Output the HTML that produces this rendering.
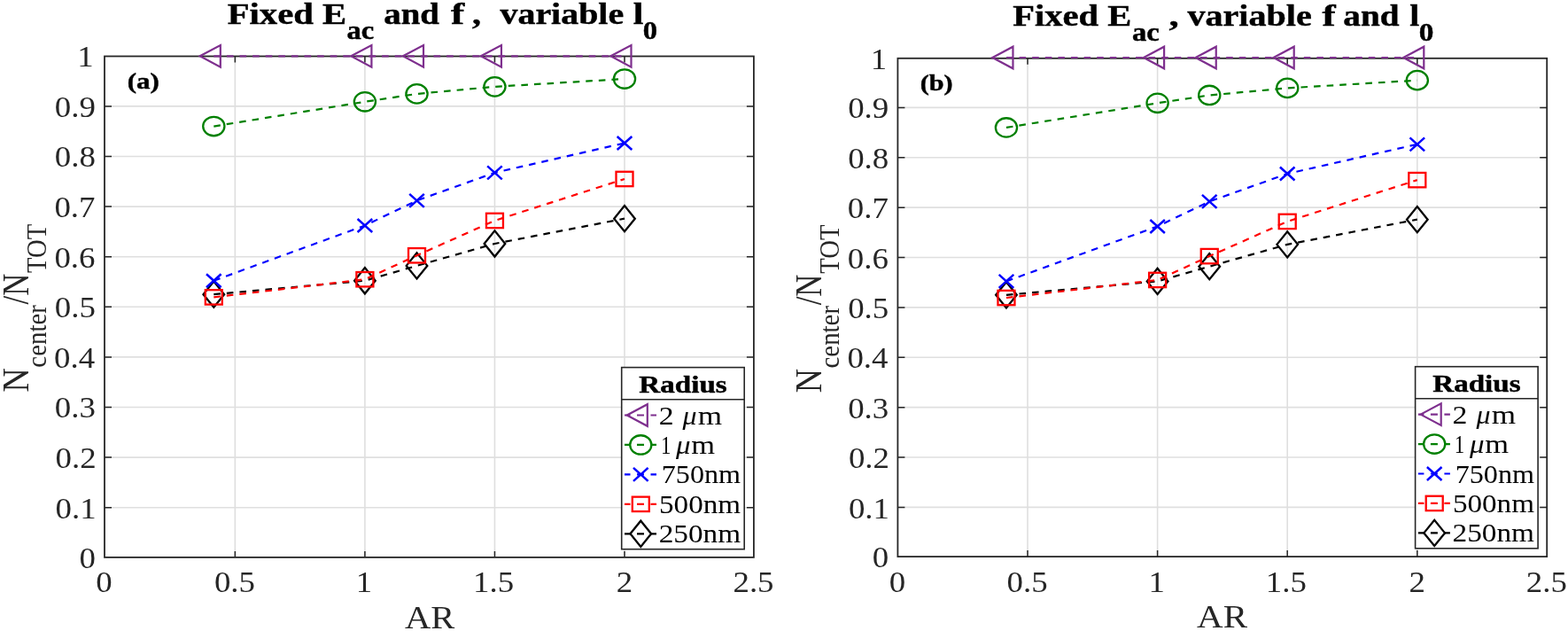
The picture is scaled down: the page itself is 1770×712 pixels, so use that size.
<!DOCTYPE html>
<html><head><meta charset="utf-8"><title>Fixed Eac: Ncenter/NTOT vs AR</title>
<style>
html,body{margin:0;padding:0;background:#fff;width:1770px;height:712px;overflow:hidden;}
svg{display:block;}
text{font-family:"Liberation Serif", "Times New Roman", serif;white-space:pre;}
</style></head>
<body>
<svg width="1770" height="712" viewBox="0 0 1770 712">
<rect width="1770" height="712" fill="#fff"/>
<path d="M265.35,628.90V63.50M411.90,628.90V63.50M558.45,628.90V63.50M705.00,628.90V63.50M118.00,572.70H850.90M118.00,516.10H850.90M118.00,459.50H850.90M118.00,402.90H850.90M118.00,346.30H850.90M118.00,289.70H850.90M118.00,233.10H850.90M118.00,176.50H850.90M118.00,119.90H850.90" stroke="#dfdfdf" stroke-width="1.6" fill="none"/>
<path d="M265.35,628.90v-7.0M265.35,63.50v7.0M411.90,628.90v-7.0M411.90,63.50v7.0M558.45,628.90v-7.0M558.45,63.50v7.0M705.00,628.90v-7.0M705.00,63.50v7.0M118.00,572.70h8.0M850.90,572.70h-8.0M118.00,516.10h8.0M850.90,516.10h-8.0M118.00,459.50h8.0M850.90,459.50h-8.0M118.00,402.90h8.0M850.90,402.90h-8.0M118.00,346.30h8.0M850.90,346.30h-8.0M118.00,289.70h8.0M850.90,289.70h-8.0M118.00,233.10h8.0M850.90,233.10h-8.0M118.00,176.50h8.0M850.90,176.50h-8.0M118.00,119.90h8.0M850.90,119.90h-8.0" stroke="#262626" stroke-width="1.5" fill="none"/>
<rect x="118.00" y="63.50" width="732.90" height="565.40" fill="none" stroke="#262626" stroke-width="1.8"/>
<text transform="translate(108.37,668.40) scale(1.095,1)" font-size="33.7" fill="#262626">0</text>
<text transform="translate(241.89,668.40) scale(1.095,1)" font-size="33.7" fill="#262626">0.5</text>
<text transform="translate(401.72,668.40) scale(1.095,1)" font-size="33.7" fill="#262626">1</text>
<text transform="translate(534.06,668.40) scale(1.095,1)" font-size="33.7" fill="#262626">1.5</text>
<text transform="translate(695.74,668.40) scale(1.095,1)" font-size="33.7" fill="#262626">2</text>
<text transform="translate(827.44,668.40) scale(1.095,1)" font-size="33.7" fill="#262626">2.5</text>
<text transform="translate(89.43,640.80) scale(1.095,1)" font-size="33.7" fill="#262626">0</text>
<text transform="translate(62.49,584.60) scale(1.095,1)" font-size="33.7" fill="#262626">0.1</text>
<text transform="translate(62.49,528.00) scale(1.095,1)" font-size="33.7" fill="#262626">0.2</text>
<text transform="translate(61.75,471.40) scale(1.095,1)" font-size="33.7" fill="#262626">0.3</text>
<text transform="translate(61.01,414.80) scale(1.095,1)" font-size="33.7" fill="#262626">0.4</text>
<text transform="translate(61.75,358.20) scale(1.095,1)" font-size="33.7" fill="#262626">0.5</text>
<text transform="translate(61.38,301.60) scale(1.095,1)" font-size="33.7" fill="#262626">0.6</text>
<text transform="translate(61.38,245.00) scale(1.095,1)" font-size="33.7" fill="#262626">0.7</text>
<text transform="translate(61.75,188.40) scale(1.095,1)" font-size="33.7" fill="#262626">0.8</text>
<text transform="translate(61.75,131.80) scale(1.095,1)" font-size="33.7" fill="#262626">0.9</text>
<text transform="translate(87.26,75.40) scale(1.095,1)" font-size="33.7" fill="#262626">1</text>
<polyline points="241.32,332.15 411.90,316.70 470.52,299.89 558.45,274.98 705.00,246.68" fill="none" stroke="#000000" stroke-width="2.2" stroke-dasharray="7.6 7.0"/>
<path d="M229.52,332.15L241.32,317.55L253.12,332.15L241.32,346.75Z" fill="none" stroke="#000000" stroke-width="2.3" stroke-miterlimit="10"/>
<path d="M400.10,316.70L411.90,302.10L423.70,316.70L411.90,331.30Z" fill="none" stroke="#000000" stroke-width="2.3" stroke-miterlimit="10"/>
<path d="M458.72,299.89L470.52,285.29L482.32,299.89L470.52,314.49Z" fill="none" stroke="#000000" stroke-width="2.3" stroke-miterlimit="10"/>
<path d="M546.65,274.98L558.45,260.38L570.25,274.98L558.45,289.58Z" fill="none" stroke="#000000" stroke-width="2.3" stroke-miterlimit="10"/>
<path d="M693.20,246.68L705.00,232.08L716.80,246.68L705.00,261.28Z" fill="none" stroke="#000000" stroke-width="2.3" stroke-miterlimit="10"/>
<polyline points="241.32,335.38 411.90,315.23 470.52,288.28 558.45,248.95 705.00,201.97" fill="none" stroke="#ff0000" stroke-width="2.2" stroke-dasharray="7.6 7.0"/>
<rect x="231.82" y="327.18" width="19.0" height="16.4" fill="none" stroke="#ff0000" stroke-width="2.3"/>
<rect x="402.40" y="307.03" width="19.0" height="16.4" fill="none" stroke="#ff0000" stroke-width="2.3"/>
<rect x="461.02" y="280.08" width="19.0" height="16.4" fill="none" stroke="#ff0000" stroke-width="2.3"/>
<rect x="548.95" y="240.75" width="19.0" height="16.4" fill="none" stroke="#ff0000" stroke-width="2.3"/>
<rect x="695.50" y="193.77" width="19.0" height="16.4" fill="none" stroke="#ff0000" stroke-width="2.3"/>
<polyline points="241.32,316.70 411.90,254.49 470.52,226.31 558.45,194.84 705.00,161.50" fill="none" stroke="#0000ff" stroke-width="2.2" stroke-dasharray="7.6 7.0"/>
<path d="M233.02,309.20L249.62,324.20M233.02,324.20L249.62,309.20" fill="none" stroke="#0000ff" stroke-width="2.5"/>
<path d="M403.60,246.99L420.20,261.99M403.60,261.99L420.20,246.99" fill="none" stroke="#0000ff" stroke-width="2.5"/>
<path d="M462.22,218.81L478.82,233.81M462.22,233.81L478.82,218.81" fill="none" stroke="#0000ff" stroke-width="2.5"/>
<path d="M550.15,187.34L566.75,202.34M550.15,202.34L566.75,187.34" fill="none" stroke="#0000ff" stroke-width="2.5"/>
<path d="M696.70,154.00L713.30,169.00M696.70,169.00L713.30,154.00" fill="none" stroke="#0000ff" stroke-width="2.5"/>
<polyline points="241.32,142.54 411.90,114.81 470.52,105.92 558.45,97.83 705.00,89.05" fill="none" stroke="#008000" stroke-width="2.2" stroke-dasharray="7.6 7.0"/>
<ellipse cx="241.32" cy="142.54" rx="12.1" ry="10.7" fill="none" stroke="#008000" stroke-width="2.3"/>
<ellipse cx="411.90" cy="114.81" rx="12.1" ry="10.7" fill="none" stroke="#008000" stroke-width="2.3"/>
<ellipse cx="470.52" cy="105.92" rx="12.1" ry="10.7" fill="none" stroke="#008000" stroke-width="2.3"/>
<ellipse cx="558.45" cy="97.83" rx="12.1" ry="10.7" fill="none" stroke="#008000" stroke-width="2.3"/>
<ellipse cx="705.00" cy="89.05" rx="12.1" ry="10.7" fill="none" stroke="#008000" stroke-width="2.3"/>
<polyline points="241.32,63.30 411.90,63.30 470.52,63.30 558.45,63.30 705.00,63.30" fill="none" stroke="#7e2f8e" stroke-width="2.2" stroke-dasharray="7.6 7.0"/>
<path d="M225.72,63.30L248.82,51.00L248.82,75.60Z" fill="none" stroke="#7e2f8e" stroke-width="2.2" stroke-miterlimit="10"/>
<path d="M396.30,63.30L419.40,51.00L419.40,75.60Z" fill="none" stroke="#7e2f8e" stroke-width="2.2" stroke-miterlimit="10"/>
<path d="M454.92,63.30L478.02,51.00L478.02,75.60Z" fill="none" stroke="#7e2f8e" stroke-width="2.2" stroke-miterlimit="10"/>
<path d="M542.85,63.30L565.95,51.00L565.95,75.60Z" fill="none" stroke="#7e2f8e" stroke-width="2.2" stroke-miterlimit="10"/>
<path d="M689.40,63.30L712.50,51.00L712.50,75.60Z" fill="none" stroke="#7e2f8e" stroke-width="2.2" stroke-miterlimit="10"/>
<path d="M1160.00,628.10V65.80M1306.60,628.10V65.80M1453.20,628.10V65.80M1599.80,628.10V65.80M1013.40,572.42H1746.20M1013.40,516.04H1746.20M1013.40,459.66H1746.20M1013.40,403.28H1746.20M1013.40,346.90H1746.20M1013.40,290.52H1746.20M1013.40,234.14H1746.20M1013.40,177.76H1746.20M1013.40,121.38H1746.20" stroke="#dfdfdf" stroke-width="1.6" fill="none"/>
<path d="M1160.00,628.10v-7.0M1160.00,65.80v7.0M1306.60,628.10v-7.0M1306.60,65.80v7.0M1453.20,628.10v-7.0M1453.20,65.80v7.0M1599.80,628.10v-7.0M1599.80,65.80v7.0M1013.40,572.42h8.0M1746.20,572.42h-8.0M1013.40,516.04h8.0M1746.20,516.04h-8.0M1013.40,459.66h8.0M1746.20,459.66h-8.0M1013.40,403.28h8.0M1746.20,403.28h-8.0M1013.40,346.90h8.0M1746.20,346.90h-8.0M1013.40,290.52h8.0M1746.20,290.52h-8.0M1013.40,234.14h8.0M1746.20,234.14h-8.0M1013.40,177.76h8.0M1746.20,177.76h-8.0M1013.40,121.38h8.0M1746.20,121.38h-8.0" stroke="#262626" stroke-width="1.5" fill="none"/>
<rect x="1013.40" y="65.80" width="732.80" height="562.30" fill="none" stroke="#262626" stroke-width="1.8"/>
<text transform="translate(1003.77,667.80) scale(1.095,1)" font-size="33.7" fill="#262626">0</text>
<text transform="translate(1136.54,667.80) scale(1.095,1)" font-size="33.7" fill="#262626">0.5</text>
<text transform="translate(1296.42,667.80) scale(1.095,1)" font-size="33.7" fill="#262626">1</text>
<text transform="translate(1428.81,667.80) scale(1.095,1)" font-size="33.7" fill="#262626">1.5</text>
<text transform="translate(1590.54,667.80) scale(1.095,1)" font-size="33.7" fill="#262626">2</text>
<text transform="translate(1722.74,667.80) scale(1.095,1)" font-size="33.7" fill="#262626">2.5</text>
<text transform="translate(984.83,640.20) scale(1.095,1)" font-size="33.7" fill="#262626">0</text>
<text transform="translate(957.89,584.52) scale(1.095,1)" font-size="33.7" fill="#262626">0.1</text>
<text transform="translate(957.89,528.14) scale(1.095,1)" font-size="33.7" fill="#262626">0.2</text>
<text transform="translate(957.15,471.76) scale(1.095,1)" font-size="33.7" fill="#262626">0.3</text>
<text transform="translate(956.41,415.38) scale(1.095,1)" font-size="33.7" fill="#262626">0.4</text>
<text transform="translate(957.15,359.00) scale(1.095,1)" font-size="33.7" fill="#262626">0.5</text>
<text transform="translate(956.78,302.62) scale(1.095,1)" font-size="33.7" fill="#262626">0.6</text>
<text transform="translate(956.78,246.24) scale(1.095,1)" font-size="33.7" fill="#262626">0.7</text>
<text transform="translate(957.15,189.86) scale(1.095,1)" font-size="33.7" fill="#262626">0.8</text>
<text transform="translate(957.15,133.48) scale(1.095,1)" font-size="33.7" fill="#262626">0.9</text>
<text transform="translate(982.66,77.90) scale(1.095,1)" font-size="33.7" fill="#262626">1</text>
<polyline points="1135.96,332.80 1306.60,317.41 1365.24,300.67 1453.20,275.86 1599.80,247.67" fill="none" stroke="#000000" stroke-width="2.2" stroke-dasharray="7.6 7.0"/>
<path d="M1124.16,332.80L1135.96,318.20L1147.76,332.80L1135.96,347.40Z" fill="none" stroke="#000000" stroke-width="2.3" stroke-miterlimit="10"/>
<path d="M1294.80,317.41L1306.60,302.81L1318.40,317.41L1306.60,332.01Z" fill="none" stroke="#000000" stroke-width="2.3" stroke-miterlimit="10"/>
<path d="M1353.44,300.67L1365.24,286.07L1377.04,300.67L1365.24,315.27Z" fill="none" stroke="#000000" stroke-width="2.3" stroke-miterlimit="10"/>
<path d="M1441.40,275.86L1453.20,261.26L1465.00,275.86L1453.20,290.46Z" fill="none" stroke="#000000" stroke-width="2.3" stroke-miterlimit="10"/>
<path d="M1588.00,247.67L1599.80,233.07L1611.60,247.67L1599.80,262.27Z" fill="none" stroke="#000000" stroke-width="2.3" stroke-miterlimit="10"/>
<polyline points="1135.96,336.02 1306.60,315.95 1365.24,289.11 1453.20,249.93 1599.80,203.13" fill="none" stroke="#ff0000" stroke-width="2.2" stroke-dasharray="7.6 7.0"/>
<rect x="1126.46" y="327.82" width="19.0" height="16.4" fill="none" stroke="#ff0000" stroke-width="2.3"/>
<rect x="1297.10" y="307.75" width="19.0" height="16.4" fill="none" stroke="#ff0000" stroke-width="2.3"/>
<rect x="1355.74" y="280.91" width="19.0" height="16.4" fill="none" stroke="#ff0000" stroke-width="2.3"/>
<rect x="1443.70" y="241.73" width="19.0" height="16.4" fill="none" stroke="#ff0000" stroke-width="2.3"/>
<rect x="1590.30" y="194.93" width="19.0" height="16.4" fill="none" stroke="#ff0000" stroke-width="2.3"/>
<polyline points="1135.96,317.41 1306.60,255.45 1365.24,227.37 1453.20,196.03 1599.80,162.82" fill="none" stroke="#0000ff" stroke-width="2.2" stroke-dasharray="7.6 7.0"/>
<path d="M1127.66,309.91L1144.26,324.91M1127.66,324.91L1144.26,309.91" fill="none" stroke="#0000ff" stroke-width="2.5"/>
<path d="M1298.30,247.95L1314.90,262.95M1298.30,262.95L1314.90,247.95" fill="none" stroke="#0000ff" stroke-width="2.5"/>
<path d="M1356.94,219.87L1373.54,234.87M1356.94,234.87L1373.54,219.87" fill="none" stroke="#0000ff" stroke-width="2.5"/>
<path d="M1444.90,188.53L1461.50,203.53M1444.90,203.53L1461.50,188.53" fill="none" stroke="#0000ff" stroke-width="2.5"/>
<path d="M1591.50,155.32L1608.10,170.32M1591.50,170.32L1608.10,155.32" fill="none" stroke="#0000ff" stroke-width="2.5"/>
<polyline points="1135.96,143.93 1306.60,116.31 1365.24,107.45 1453.20,99.39 1599.80,90.65" fill="none" stroke="#008000" stroke-width="2.2" stroke-dasharray="7.6 7.0"/>
<ellipse cx="1135.96" cy="143.93" rx="12.1" ry="10.7" fill="none" stroke="#008000" stroke-width="2.3"/>
<ellipse cx="1306.60" cy="116.31" rx="12.1" ry="10.7" fill="none" stroke="#008000" stroke-width="2.3"/>
<ellipse cx="1365.24" cy="107.45" rx="12.1" ry="10.7" fill="none" stroke="#008000" stroke-width="2.3"/>
<ellipse cx="1453.20" cy="99.39" rx="12.1" ry="10.7" fill="none" stroke="#008000" stroke-width="2.3"/>
<ellipse cx="1599.80" cy="90.65" rx="12.1" ry="10.7" fill="none" stroke="#008000" stroke-width="2.3"/>
<polyline points="1135.96,65.00 1306.60,65.00 1365.24,65.00 1453.20,65.00 1599.80,65.00" fill="none" stroke="#7e2f8e" stroke-width="2.2" stroke-dasharray="7.6 7.0"/>
<path d="M1120.36,65.00L1143.46,52.70L1143.46,77.30Z" fill="none" stroke="#7e2f8e" stroke-width="2.2" stroke-miterlimit="10"/>
<path d="M1291.00,65.00L1314.10,52.70L1314.10,77.30Z" fill="none" stroke="#7e2f8e" stroke-width="2.2" stroke-miterlimit="10"/>
<path d="M1349.64,65.00L1372.74,52.70L1372.74,77.30Z" fill="none" stroke="#7e2f8e" stroke-width="2.2" stroke-miterlimit="10"/>
<path d="M1437.60,65.00L1460.70,52.70L1460.70,77.30Z" fill="none" stroke="#7e2f8e" stroke-width="2.2" stroke-miterlimit="10"/>
<path d="M1584.20,65.00L1607.30,52.70L1607.30,77.30Z" fill="none" stroke="#7e2f8e" stroke-width="2.2" stroke-miterlimit="10"/>
<rect x="701.70" y="414.60" width="138.5" height="205.1" fill="#fff" stroke="#262626" stroke-width="1.6"/>
<path d="M701.70,450.70h138.5" stroke="#262626" stroke-width="1.6"/>
<path d="M705.00,468.50h6.5M719.00,468.50h8M734.50,468.50h6.5" stroke="#7e2f8e" stroke-width="2.2" fill="none"/>
<path d="M707.70,468.50L730.80,456.20L730.80,480.80Z" fill="none" stroke="#7e2f8e" stroke-width="2.2" stroke-miterlimit="10"/>
<path d="M705.00,501.95h6.5M719.00,501.95h8M734.50,501.95h6.5" stroke="#008000" stroke-width="2.2" fill="none"/>
<ellipse cx="723.30" cy="501.95" rx="12.1" ry="10.7" fill="none" stroke="#008000" stroke-width="2.3"/>
<path d="M705.00,535.40h6.5M719.00,535.40h8M734.50,535.40h6.5" stroke="#0000ff" stroke-width="2.2" fill="none"/>
<path d="M715.00,527.90L731.60,542.90M715.00,542.90L731.60,527.90" fill="none" stroke="#0000ff" stroke-width="2.5"/>
<path d="M705.00,568.85h6.5M719.00,568.85h8M734.50,568.85h6.5" stroke="#ff0000" stroke-width="2.2" fill="none"/>
<rect x="713.80" y="560.65" width="19.0" height="16.4" fill="none" stroke="#ff0000" stroke-width="2.3"/>
<path d="M705.00,602.30h6.5M719.00,602.30h8M734.50,602.30h6.5" stroke="#000000" stroke-width="2.2" fill="none"/>
<path d="M711.50,602.30L723.30,587.70L735.10,602.30L723.30,616.90Z" fill="none" stroke="#000000" stroke-width="2.3" stroke-miterlimit="10"/>
<rect x="1597.60" y="413.70" width="138.5" height="205.1" fill="#fff" stroke="#262626" stroke-width="1.6"/>
<path d="M1597.60,449.80h138.5" stroke="#262626" stroke-width="1.6"/>
<path d="M1600.90,467.60h6.5M1614.90,467.60h8M1630.40,467.60h6.5" stroke="#7e2f8e" stroke-width="2.2" fill="none"/>
<path d="M1603.60,467.60L1626.70,455.30L1626.70,479.90Z" fill="none" stroke="#7e2f8e" stroke-width="2.2" stroke-miterlimit="10"/>
<path d="M1600.90,501.05h6.5M1614.90,501.05h8M1630.40,501.05h6.5" stroke="#008000" stroke-width="2.2" fill="none"/>
<ellipse cx="1619.20" cy="501.05" rx="12.1" ry="10.7" fill="none" stroke="#008000" stroke-width="2.3"/>
<path d="M1600.90,534.50h6.5M1614.90,534.50h8M1630.40,534.50h6.5" stroke="#0000ff" stroke-width="2.2" fill="none"/>
<path d="M1610.90,527.00L1627.50,542.00M1610.90,542.00L1627.50,527.00" fill="none" stroke="#0000ff" stroke-width="2.5"/>
<path d="M1600.90,567.95h6.5M1614.90,567.95h8M1630.40,567.95h6.5" stroke="#ff0000" stroke-width="2.2" fill="none"/>
<rect x="1609.70" y="559.75" width="19.0" height="16.4" fill="none" stroke="#ff0000" stroke-width="2.3"/>
<path d="M1600.90,601.40h6.5M1614.90,601.40h8M1630.40,601.40h6.5" stroke="#000000" stroke-width="2.2" fill="none"/>
<path d="M1607.40,601.40L1619.20,586.80L1631.00,601.40L1619.20,616.00Z" fill="none" stroke="#000000" stroke-width="2.3" stroke-miterlimit="10"/>
<text transform="translate(256.69,27.00) scale(1.1835,1)" font-size="34.4" font-weight="bold" stroke="#000" stroke-width="0.45">Fixed E</text>
<text transform="translate(391.52,44.20) scale(1.1121,1)" font-size="29.3" font-weight="bold" stroke="#000" stroke-width="0.45">ac</text>
<text transform="translate(433.33,27.00) scale(1.1295,1)" font-size="34.4" font-weight="bold" stroke="#000" stroke-width="0.45">and</text>
<text transform="translate(509.05,27.00) scale(1.3214,1)" font-size="34.4" font-weight="bold" stroke="#000" stroke-width="0.45">f</text>
<text transform="translate(533.10,27.00) scale(1.1628,1)" font-size="34.4" font-weight="bold" stroke="#000" stroke-width="0.45">,</text>
<text transform="translate(564.50,27.00) scale(1.1603,1)" font-size="34.4" font-weight="bold" stroke="#000" stroke-width="0.45">variable</text>
<text transform="translate(714.86,27.00) scale(1.2234,1)" font-size="34.4" font-weight="bold" stroke="#000" stroke-width="0.45">l</text>
<text transform="translate(725.70,44.20) scale(1.1133,1)" font-size="29.3" font-weight="bold" stroke="#000" stroke-width="0.45">0</text>
<text transform="translate(1143.19,28.50) scale(1.1790,1)" font-size="34.4" font-weight="bold" stroke="#000" stroke-width="0.45">Fixed E</text>
<text transform="translate(1278.02,45.70) scale(1.1121,1)" font-size="29.3" font-weight="bold" stroke="#000" stroke-width="0.45">ac</text>
<text transform="translate(1319.55,28.50) scale(1.3081,1)" font-size="34.4" font-weight="bold" stroke="#000" stroke-width="0.45">,</text>
<text transform="translate(1340.50,28.50) scale(1.1645,1)" font-size="34.4" font-weight="bold" stroke="#000" stroke-width="0.45">variable</text>
<text transform="translate(1492.55,28.50) scale(1.3214,1)" font-size="34.4" font-weight="bold" stroke="#000" stroke-width="0.45">f</text>
<text transform="translate(1516.32,28.50) scale(1.1387,1)" font-size="34.4" font-weight="bold" stroke="#000" stroke-width="0.45">and</text>
<text transform="translate(1591.21,28.50) scale(1.1507,1)" font-size="34.4" font-weight="bold" stroke="#000" stroke-width="0.45">l</text>
<text transform="translate(1601.67,45.90) scale(1.1377,1)" font-size="29.3" font-weight="bold" stroke="#000" stroke-width="0.45">0</text>
<text transform="translate(456.89,708.60) scale(1.1159,1)" font-size="36.3" fill="#262626">AR</text>
<text transform="translate(1351.09,707.80) scale(1.1279,1)" font-size="36.3" fill="#262626">AR</text>
<text transform="translate(143.76,100.00) scale(1.1884,1)" font-size="26.1" font-weight="bold" stroke="#000" stroke-width="0.45">(a)</text>
<text transform="translate(1038.69,101.60) scale(1.1551,1)" font-size="26.2" font-weight="bold" stroke="#000" stroke-width="0.45">(b)</text>
<text transform="translate(721.34,442.50) scale(1.1699,1)" font-size="28.3" font-weight="bold" stroke="#000" stroke-width="0.45">Radius</text>
<text transform="translate(743.65,479.20) scale(1.1326,1)" font-size="29.8">2</text>
<text transform="translate(770.50,479.20) scale(1.0710,1)" font-size="29.8" font-style="italic">μ</text>
<text transform="translate(787.80,479.20) scale(1.1790,1)" font-size="29.8">m</text>
<text transform="translate(745.94,512.30) scale(0.7670,1)" font-size="29.8">1</text>
<text transform="translate(763.00,512.30) scale(1.1067,1)" font-size="29.8" font-style="italic">μ</text>
<text transform="translate(780.31,512.30) scale(1.1564,1)" font-size="29.8">m</text>
<text transform="translate(746.75,545.40) scale(1.0791,1)" font-size="29.8">750nm</text>
<text transform="translate(744.01,578.50) scale(1.1124,1)" font-size="29.8">500nm</text>
<text transform="translate(743.67,611.60) scale(1.1165,1)" font-size="29.8">250nm</text>
<text transform="translate(1617.24,441.60) scale(1.1699,1)" font-size="28.3" font-weight="bold" stroke="#000" stroke-width="0.45">Radius</text>
<text transform="translate(1639.55,478.30) scale(1.1326,1)" font-size="29.8">2</text>
<text transform="translate(1666.40,478.30) scale(1.0710,1)" font-size="29.8" font-style="italic">μ</text>
<text transform="translate(1683.70,478.30) scale(1.1790,1)" font-size="29.8">m</text>
<text transform="translate(1641.84,511.40) scale(0.7670,1)" font-size="29.8">1</text>
<text transform="translate(1658.90,511.40) scale(1.1067,1)" font-size="29.8" font-style="italic">μ</text>
<text transform="translate(1676.21,511.40) scale(1.1564,1)" font-size="29.8">m</text>
<text transform="translate(1642.65,544.50) scale(1.0791,1)" font-size="29.8">750nm</text>
<text transform="translate(1639.91,577.60) scale(1.1124,1)" font-size="29.8">500nm</text>
<text transform="translate(1639.57,610.70) scale(1.1165,1)" font-size="29.8">250nm</text>
<text transform="translate(32.10,442.54) scale(1.1,1) rotate(-90) scale(1.0109,1)" font-size="37.5" fill="#262626">N</text>
<text transform="translate(52.00,414.65) scale(1.1,1) rotate(-90) scale(0.9787,1)" font-size="29.5" fill="#262626">center</text>
<text transform="translate(32.10,343.50) scale(1.1,1) rotate(-90) scale(0.9279,1)" font-size="37.5" fill="#262626">/N</text>
<text transform="translate(52.00,307.97) scale(1.1,1) rotate(-90) scale(0.9739,1)" font-size="29.5" fill="#262626">TOT</text>
<text transform="translate(926.90,443.34) scale(1.1,1) rotate(-90) scale(1.0109,1)" font-size="37.5" fill="#262626">N</text>
<text transform="translate(946.80,415.45) scale(1.1,1) rotate(-90) scale(0.9787,1)" font-size="29.5" fill="#262626">center</text>
<text transform="translate(926.90,344.30) scale(1.1,1) rotate(-90) scale(0.9279,1)" font-size="37.5" fill="#262626">/N</text>
<text transform="translate(946.80,308.77) scale(1.1,1) rotate(-90) scale(0.9739,1)" font-size="29.5" fill="#262626">TOT</text>
</svg>
</body></html>
